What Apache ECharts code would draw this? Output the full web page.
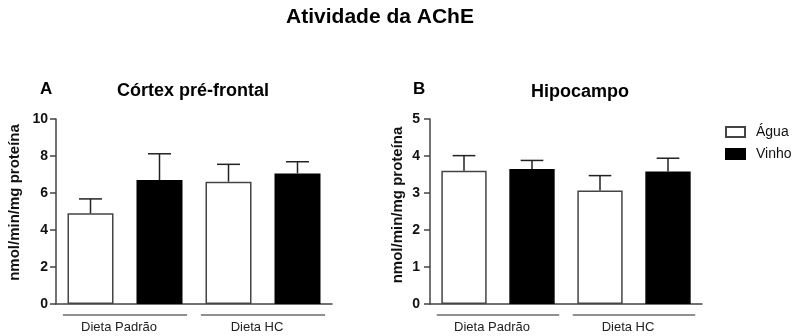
<!DOCTYPE html>
<html>
<head>
<meta charset="utf-8">
<script src="https://cdn.jsdelivr.net/npm/echarts@6/dist/echarts.min.js"></script>
<style>html,body{margin:0;padding:0;background:#fff}#c{width:797px;height:336px}</style>
</head>
<body>
<div id="c"></div>
<script>
const categories = ['Dieta Padrão', 'Dieta HC'];
const cortexAgua = [4.90, 6.61];
const cortexAguaTop = [5.68, 7.55];
const cortexVinho = [6.70, 7.06];
const cortexVinhoTop = [8.12, 7.69];
const hipoAgua = [3.60, 3.07];
const hipoAguaTop = [4.01, 3.47];
const hipoVinho = [3.65, 3.58];
const hipoVinhoTop = [3.88, 3.94];
const cortexTicks = { min: 0, max: 10, interval: 2 };
const hipoTicks = { min: 0, max: 5, interval: 1 };

const FONT = "'Liberation Sans', Arial, sans-serif";
const AXIS_COLOR = '#444';

function errData(means, tops, slot) {
  return means.map((m, i) => [i, m, tops[i], slot]);
}

function renderErr(params, api) {
  const idx = api.value(0);
  const c = api.coord([idx, api.value(1)]);
  const t = api.coord([idx, api.value(2)]);
  const w = api.size([1, 0])[0];
  const x = c[0] + (api.value(3) === 0 ? -1 : 1) * w / 4;
  const hw = w / 12;
  const st = { stroke: '#222', lineWidth: 1.5 };
  return {
    type: 'group',
    children: [
      { type: 'line', shape: { x1: x, y1: c[1], x2: x, y2: t[1] }, style: st },
      { type: 'line', shape: { x1: x - hw, y1: t[1], x2: x + hw, y2: t[1] }, style: st }
    ]
  };
}

function renderUnderline(params, api) {
  const idx = api.value(0);
  const c = api.coord([idx, 0]);
  const w = api.size([1, 0])[0];
  return {
    type: 'line',
    shape: { x1: c[0] - w * 0.45, y1: c[1] + 11, x2: c[0] + w * 0.45, y2: c[1] + 11 },
    style: { stroke: '#222', lineWidth: 1.2 }
  };
}

function yAxis(gridIndex, ticks, nameGap, margin, shiftUp) {
  return {
    type: 'value', gridIndex: gridIndex,
    min: ticks.min, max: ticks.max, interval: ticks.interval,
    name: 'nmol/min/mg proteína', nameLocation: 'middle', nameGap: nameGap,
    nameTextStyle: { fontFamily: FONT, fontWeight: 'bold', fontSize: 15, color: '#111', padding: [0, 0, 0, shiftUp] },
    axisLine: { show: true, lineStyle: { color: AXIS_COLOR, width: 1.5 } },
    axisTick: { show: true, length: 6, lineStyle: { color: AXIS_COLOR, width: 1.5 } },
    axisLabel: { fontFamily: FONT, fontWeight: 'bold', fontSize: 14, color: '#111', margin: margin },
    splitLine: { show: false }
  };
}

function xAxis(gridIndex) {
  return {
    type: 'category', gridIndex: gridIndex, data: categories,
    axisLine: { show: true, lineStyle: { color: AXIS_COLOR, width: 1.5 } },
    axisTick: { show: false },
    axisLabel: { fontFamily: FONT, fontSize: 13, color: '#222', margin: 17, padding: [0, 12, 0, 0] }
  };
}

const aguaStyle = { color: '#fff', borderColor: '#444', borderWidth: 1.5 };
const vinhoStyle = { color: '#000', borderColor: '#000', borderWidth: 1.5 };

function bar(name, data, gi, style) {
  return {
    type: 'bar', name: name, data: data, xAxisIndex: gi, yAxisIndex: gi,
    barGap: '50%', barCategoryGap: '16.67%', itemStyle: style,
    emphasis: { disabled: true }, animation: false, z: 2
  };
}

const option = {
  animation: false,
  title: [
    { text: 'Atividade da AChE', left: 380, top: 7, textAlign: 'center', padding: 0,
      textStyle: { fontFamily: FONT, fontWeight: 'bold', fontSize: 21, color: '#000' } },
    { text: 'Córtex pré-frontal', left: 193, top: 82, textAlign: 'center', padding: 0,
      textStyle: { fontFamily: FONT, fontWeight: 'bold', fontSize: 18, color: '#000' } },
    { text: 'Hipocampo', left: 580, top: 83, textAlign: 'center', padding: 0,
      textStyle: { fontFamily: FONT, fontWeight: 'bold', fontSize: 18, color: '#000' } },
    { text: 'A', left: 40, top: 81, padding: 0,
      textStyle: { fontFamily: FONT, fontWeight: 'bold', fontSize: 17, color: '#000' } },
    { text: 'B', left: 413, top: 81, padding: 0,
      textStyle: { fontFamily: FONT, fontWeight: 'bold', fontSize: 17, color: '#000' } }
  ],
  legend: {
    orient: 'vertical', left: 725, top: 125, padding: 0,
    itemWidth: 19, itemHeight: 10, itemGap: 8, icon: 'rect',
    selectedMode: false,
    data: ['Água', 'Vinho'],
    textStyle: { fontFamily: FONT, fontSize: 14, color: '#111', padding: [0, 0, 0, 6] }
  },
  grid: [
    { left: 56, top: 119, width: 276, height: 185 },
    { left: 430, top: 119, width: 272, height: 185 }
  ],
  xAxis: [xAxis(0), xAxis(1)],
  yAxis: [yAxis(0, cortexTicks, 34, 8, 18), yAxis(1, hipoTicks, 25, 10, 13)],
  series: [
    bar('Água', cortexAgua, 0, aguaStyle),
    bar('Vinho', cortexVinho, 0, vinhoStyle),
    bar('Água', hipoAgua, 1, aguaStyle),
    bar('Vinho', hipoVinho, 1, vinhoStyle),
    { type: 'custom', xAxisIndex: 0, yAxisIndex: 0, renderItem: renderErr, clip: false, z: 3,
      data: errData(cortexAgua, cortexAguaTop, 0).concat(errData(cortexVinho, cortexVinhoTop, 1)) },
    { type: 'custom', xAxisIndex: 1, yAxisIndex: 1, renderItem: renderErr, clip: false, z: 3,
      data: errData(hipoAgua, hipoAguaTop, 0).concat(errData(hipoVinho, hipoVinhoTop, 1)) },
    { type: 'custom', xAxisIndex: 0, yAxisIndex: 0, renderItem: renderUnderline, clip: false,
      data: categories.map((c, i) => [i, 0]) },
    { type: 'custom', xAxisIndex: 1, yAxisIndex: 1, renderItem: renderUnderline, clip: false,
      data: categories.map((c, i) => [i, 0]) }
  ]
};

const chart = echarts.init(document.getElementById('c'), null, { renderer: 'canvas' });
chart.setOption(option);
</script>
</body>
</html>
